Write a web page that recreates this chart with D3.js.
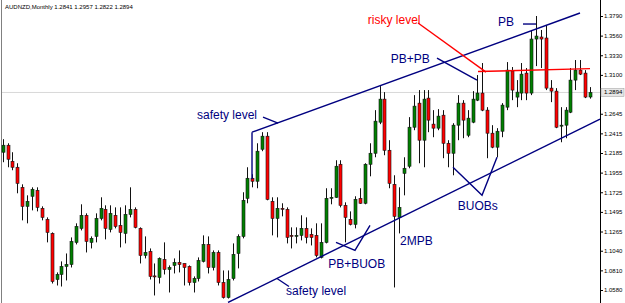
<!DOCTYPE html>
<html>
<head>
<meta charset="utf-8">
<script src="https://d3js.org/d3.v7.min.js"></script>
<style>
  body { margin: 0; background: #fff; }
  svg { display: block; font-family: "Liberation Sans", Arial, sans-serif; }
</style>
</head>
<body>
<div id="chart"></div>
<script>
// AUDNZD monthly bars, oldest first
var opens = [1.2194,1.2276,1.2088,1.2018,1.1783,1.1560,1.1678,1.1748,1.1537,1.1408,
  1.1243,1.0703,1.0762,1.0856,1.0879,1.1138,1.1302,1.1455,1.1138,1.1208,
  1.1419,1.1525,1.1290,1.1455,1.1337,1.1243,1.1466,1.1525,1.1302,1.0985,
  1.1032,1.0745,1.0727,1.0938,1.0821,1.0868,1.0903,1.0891,1.0856,1.0668,
  1.0715,1.0915,1.1114,1.0844,1.1020,1.0668,1.0492,1.0715,1.1008,1.1208,
  1.1654,1.1889,1.1854,1.2229,1.2382,1.1619,1.1419,1.1537,1.1525,1.1220,
  1.1214,1.1220,1.1302,1.1232,1.1220,1.0962,1.1138,1.1660,1.1666,1.2053,
  1.1572,1.1408,1.1349,1.1654,1.1596,1.2053,1.2182,1.2546,1.2816,1.2217,
  1.1818,1.1431,1.1947,1.2030,1.2487,1.2769,1.2335,1.2828,1.2523,1.2476,
  1.2628,1.2299,1.2182,1.2511,1.2769,1.2393,1.2546,1.2804,1.2887,1.2687,
  1.2417,1.2253,1.2440,1.2722,1.3145,1.2840,1.2887,1.3121,1.2887,1.3520,
  1.3544,1.3532,1.2945,1.2910,1.2505,1.2511,1.2663,1.3039,1.3156,1.3121,
  1.2841];
var highs = [1.2347,1.2299,1.2194,1.2065,1.1818,1.1689,1.1783,1.1783,1.1560,1.1431,
  1.1255,1.0786,1.0915,1.1008,1.1196,1.1361,1.1584,1.1478,1.1208,1.1478,
  1.1666,1.1572,1.1572,1.1548,1.1548,1.1572,1.1783,1.1548,1.1314,1.1208,
  1.1067,1.0891,1.0962,1.1138,1.0868,1.0950,1.1044,1.0891,1.0868,1.0739,
  1.0962,1.1220,1.1208,1.1044,1.1044,1.0809,1.0809,1.1126,1.1232,1.1725,
  1.2018,1.1936,1.2299,1.2429,1.2429,1.1666,1.1666,1.1596,1.1548,1.1314,
  1.1314,1.1455,1.1431,1.1302,1.1361,1.1361,1.1772,1.1772,1.2100,1.2100,
  1.1607,1.1501,1.1678,1.1772,1.2065,1.2299,1.2687,1.2969,1.2898,1.2335,
  1.1924,1.1783,1.2135,1.2605,1.2863,1.2922,1.2922,1.2922,1.2687,1.2699,
  1.2687,1.2335,1.2534,1.2863,1.2804,1.2687,1.2910,1.3098,1.3239,1.2722,
  1.2511,1.2476,1.2769,1.3250,1.3192,1.3039,1.3239,1.3180,1.3626,1.3790,
  1.3626,1.3685,1.3039,1.2945,1.2722,1.2722,1.3180,1.3274,1.3274,1.3156,
  1.2957];
var lows = [1.2077,1.2018,1.1983,1.1713,1.1396,1.1361,1.1513,1.1501,1.1396,1.1138,
  1.0656,1.0633,1.0621,1.0692,1.0844,1.1114,1.1278,1.1020,1.1067,1.1138,
  1.1396,1.1173,1.1255,1.1302,1.1079,1.1126,1.1431,1.1302,1.0891,1.0950,
  1.0703,1.0516,1.0656,1.0762,1.0551,1.0774,1.0786,1.0633,1.0633,1.0551,
  1.0680,1.0903,1.0774,1.0809,1.0633,1.0480,1.0480,1.0692,1.0833,1.1185,
  1.1596,1.1783,1.1772,1.2206,1.1631,1.1220,1.1196,1.1443,1.1126,1.1067,
  1.1126,1.1161,1.1126,1.1102,1.0962,1.0950,1.1126,1.1584,1.1660,1.1548,
  1.1138,1.1337,1.1302,1.1590,1.1584,1.1912,1.2135,1.2523,1.2159,1.1772,
  1.0610,1.1243,1.1689,1.2006,1.2452,1.2065,1.2018,1.2429,1.2370,1.2452,
  1.2124,1.2018,1.1924,1.2335,1.2358,1.2370,1.2534,1.2793,1.2675,1.2124,
  1.2241,1.2135,1.2370,1.2687,1.2804,1.2722,1.2804,1.2804,1.2863,1.3203,
  1.3180,1.2922,1.2781,1.2476,1.2311,1.2358,1.2652,1.2922,1.3098,1.2828,
  1.2822];
var closes = [1.2276,1.2112,1.2018,1.1830,1.1560,1.1619,1.1760,1.1548,1.1431,1.1255,
  1.0680,1.0762,1.0856,1.0879,1.1149,1.1325,1.1455,1.1149,1.1185,1.1419,
  1.1537,1.1302,1.1478,1.1325,1.1255,1.1466,1.1525,1.1314,1.0985,1.1020,
  1.0739,1.0739,1.0950,1.0821,1.0844,1.0903,1.0879,1.0844,1.0668,1.0715,
  1.0926,1.1114,1.0844,1.1020,1.0668,1.0492,1.0703,1.0997,1.1208,1.1631,
  1.1889,1.1854,1.2206,1.2382,1.1642,1.1419,1.1537,1.1531,1.1196,1.1214,
  1.1220,1.1302,1.1196,1.1196,1.0985,1.1138,1.1654,1.1666,1.2030,1.1572,
  1.1431,1.1349,1.1642,1.1596,1.2053,1.2182,1.2558,1.2816,1.2217,1.1830,
  1.1443,1.1548,1.2006,1.2487,1.2734,1.2335,1.2816,1.2570,1.2476,1.2617,
  1.2299,1.2182,1.2511,1.2769,1.2570,1.2593,1.2816,1.2887,1.2687,1.2417,
  1.2253,1.2440,1.2746,1.3156,1.2922,1.2898,1.3109,1.2887,1.3520,1.3555,
  1.3520,1.2945,1.2910,1.2487,1.2511,1.2687,1.3039,1.3156,1.3109,1.2840,
  1.2894];

var priceTicks = [1.3790,1.3560,1.3330,1.3100,1.2645,1.2415,1.2185,1.1955,1.1725,1.1495,1.1265,1.1040,1.0810,1.0580];
var lastPrice = 1.2894;
var title = "AUDNZD,Monthly  1.2841 1.2957 1.2822 1.2894";

// drawn objects, as [bar index, price]
var navyLines = [
  [[50.94,1.2429],[117.96,1.3825]],           // upper channel
  [[50.94,1.2429],[50.94,1.1877]],
  [[46.04,1.0434],[122.05,1.2581]],           // lower channel
  [[53.19,1.2605],[56.25,1.2534]],
  [[56.05,1.0715],[58.5,1.0621]],
  [[68.10,1.1138],[71.98,1.1044],[75.05,1.1337]],
  [[92.01,1.2018],[97.94,1.1689],[101.0,1.2135]],
  [[88.74,1.3297],[96.91,1.3039]],
  [[106.31,1.3696],[108.97,1.3696]]
];
var redLines = [
  [[97.12,1.3139],[120.0,1.3174]],            // risky level
  [[84.86,1.3708],[98.76,1.3133]]
];
var notes = [
  {text:"safety level", i:39.7, p:1.2581, color:"#000080"},
  {text:"safety level", i:57.9, p:1.0527, color:"#000080"},
  {text:"PB+BUOB", i:66.5, p:1.0833, color:"#000080"},
  {text:"2MPB", i:81.2, p:1.1102, color:"#000080"},
  {text:"BUOBs", i:93.0, p:1.1513, color:"#000080"},
  {text:"PB+PB", i:79.3, p:1.3239, color:"#000080"},
  {text:"PB", i:101.2, p:1.3673, color:"#000080"},
  {text:"risky level", i:74.6, p:1.3696, color:"#ff0000"}
];

var W = 625, H = 303;
var svg = d3.select("#chart").append("svg").attr("width", W).attr("height", H);

var x = d3.scaleLinear().domain([0, opens.length - 1]).range([2.7, 590]);
var y = d3.scaleLinear().domain([1.0580, 1.3790]).range([290, 16]);

var bars = opens.map(function(o, i) {
  return {i: i, o: o, h: highs[i], l: lows[i], c: closes[i]};
});

// frame
svg.append("line").attr("x1", 1.5).attr("x2", 1.5).attr("y1", 0).attr("y2", H)
  .attr("stroke", "#808080");
svg.append("line").attr("x1", 2).attr("x2", 600).attr("y1", y(lastPrice)).attr("y2", y(lastPrice))
  .attr("stroke", "#d8d8d8");

// candles
var g = svg.append("g");
g.selectAll(".wick").data(bars).enter().append("line")
  .attr("x1", function(d) { return Math.round(x(d.i)) + 0.5; })
  .attr("x2", function(d) { return Math.round(x(d.i)) + 0.5; })
  .attr("y1", function(d) { return y(d.h); })
  .attr("y2", function(d) { return y(d.l); })
  .attr("stroke", "#111").attr("stroke-width", 1);
g.selectAll(".body").data(bars).enter().append("rect")
  .attr("x", function(d) { return Math.round(x(d.i)) - 1; })
  .attr("width", 3)
  .attr("y", function(d) { return y(Math.max(d.o, d.c)); })
  .attr("height", function(d) { return Math.max(1, Math.abs(y(d.o) - y(d.c))); })
  .attr("fill", function(d) { return d.c >= d.o ? "#008000" : "#ff0000"; })
  .attr("stroke", "#111").attr("stroke-width", 0.6);

// annotations
var line = d3.line().x(function(d) { return x(d[0]); }).y(function(d) { return y(d[1]); });
svg.selectAll(".navy").data(navyLines).enter().append("path")
  .attr("d", line).attr("fill", "none").attr("stroke", "#000080").attr("stroke-width", 1.4);
svg.selectAll(".red").data(redLines).enter().append("path")
  .attr("d", line).attr("fill", "none").attr("stroke", "#ff0000").attr("stroke-width", 1.4);
svg.selectAll(".note").data(notes).enter().append("text")
  .attr("x", function(d) { return x(d.i); })
  .attr("y", function(d) { return y(d.p); })
  .attr("fill", function(d) { return d.color; })
  .style("font-size", "12px")
  .text(function(d) { return d.text; });

// price axis
var axis = d3.axisRight(y).tickValues(priceTicks).tickFormat(d3.format(".4f")).tickSize(3).tickPadding(1);
var ax = svg.append("g").attr("transform", "translate(600,0)").call(axis);
ax.select(".domain").attr("d", "M0.5,0V" + H).attr("stroke", "#000");
ax.selectAll("text").style("font-size", "6px").style("font-family", "Liberation Sans, Arial");

var lp = svg.append("g").attr("transform", "translate(601," + y(lastPrice) + ")");
lp.append("rect").attr("x", 0).attr("y", -4).attr("width", 23).attr("height", 8)
  .attr("fill", "#e6e6e6").attr("stroke", "#999").attr("stroke-width", 0.5);
lp.append("text").attr("x", 3).attr("y", 2).style("font-size", "6px").text(d3.format(".4f")(lastPrice));

svg.append("text").attr("x", 5).attr("y", 9).style("font-size", "6px").attr("fill", "#000").text(title);
</script>
</body>
</html>
